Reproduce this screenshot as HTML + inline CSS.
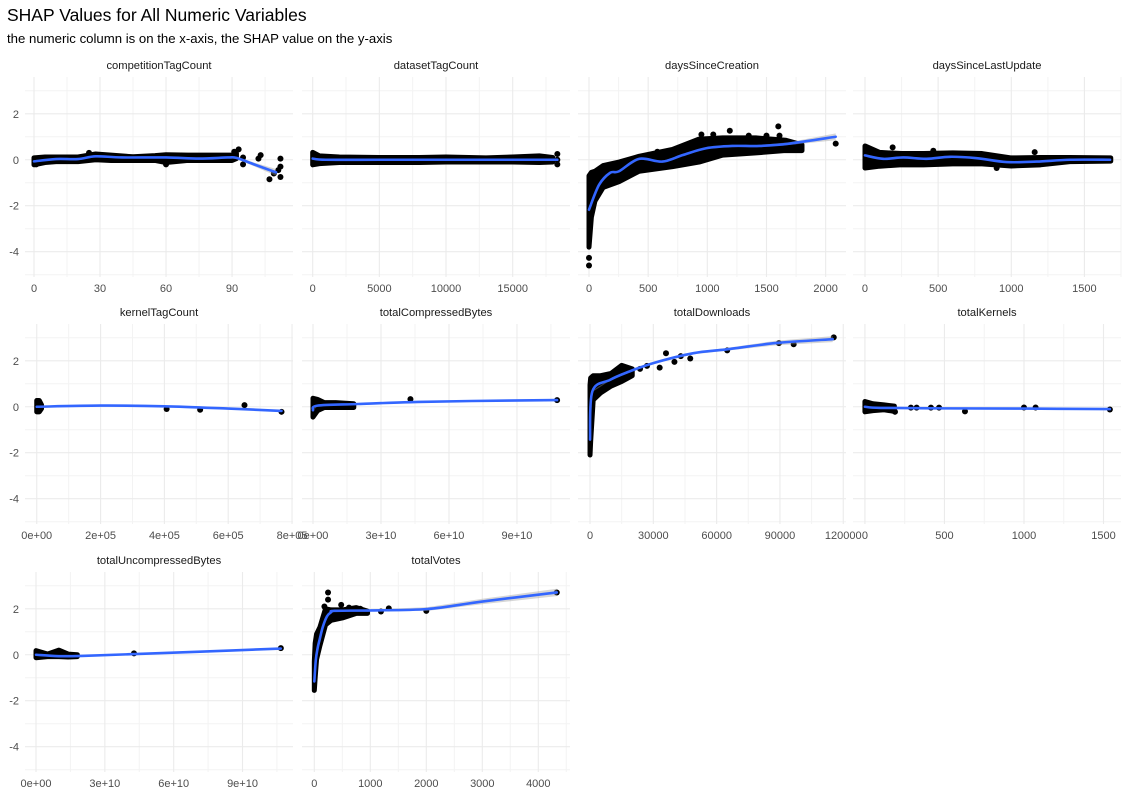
<!DOCTYPE html>
<html><head><meta charset="utf-8"><style>
html,body{margin:0;padding:0;background:#fff;}
svg{display:block;font-family:"Liberation Sans",sans-serif;}
</style></head><body>
<svg id="chart" width="1129" height="796" viewBox="0 0 1129 796" xmlns="http://www.w3.org/2000/svg">
<rect x="0" y="0" width="1129" height="796" fill="#fff"/>
<text x="7" y="21" font-size="17.5" fill="#000">SHAP Values for All Numeric Variables</text>
<text x="7" y="43" font-size="13.2" fill="#000">the numeric column is on the x-axis, the SHAP value on the y-axis</text>
<g id="panels"></g>
</svg>
<script>
// ---- data ----
const compBandX=[0,5,10,20,28,35,45,55,60,70,80,90,92];
const compBandLo=[-0.22,-0.12,-0.08,-0.08,0,-0.03,-0.03,-0.03,-0.12,-0.03,-0.03,-0.03,0.05];
const compBandHi=[0.08,0.12,0.12,0.12,0.25,0.2,0.13,0.18,0.22,0.2,0.2,0.2,0.28];
const compPtX=[93,91,95,95,103,102,107,109,111,112,112,112,60,25,1,1];
const compPtY=[0.45,0.35,0.1,-0.2,0.2,0.05,-0.85,-0.6,-0.45,-0.3,0.05,-0.75,-0.2,0.3,-0.2,0.0];
const compFitX=[0,10,20,28,40,60,75,88,92,100,110];
const compFitY=[-0.07,0.03,0.03,0.15,0.1,0.1,0.05,0.1,0.08,-0.2,-0.55];
const compSe=[0.05,0.03,0.03,0.03,0.03,0.03,0.03,0.04,0.05,0.08,0.15];

const dsBandX=[0,500,2000,5000,8000,10000,13000,15000,17000,18000];
const dsBandLo=[-0.22,-0.17,-0.12,-0.12,-0.12,-0.1,-0.1,-0.1,-0.12,-0.1];
const dsBandHi=[0.32,0.17,0.12,0.1,0.1,0.12,0.08,0.12,0.17,0.1];
const dsPtX=[18350,18350,18350];
const dsPtY=[0.25,0.0,-0.2];
const dsFitX=[0,1000,5000,10000,15000,18350];
const dsFitY=[0.05,0.0,0.0,0.0,0.0,0.0];
const dsSe=[0.03,0.02,0.02,0.02,0.02,0.03];

const dcBandX=[0,20,50,120,254,423,705,930,1130,1410,1660,1800];
const dcBandLo=[-3.8,-2.5,-1.8,-1.2,-0.95,-0.5,-0.3,-0.1,0.2,0.3,0.4,0.4];
const dcBandHi=[-0.7,-0.55,-0.5,-0.25,-0.1,0.15,0.45,0.9,0.95,0.95,0.85,0.65];
const dcPtX=[1190,1600,1610,2085,0,0,578,950,1050,1350,1500];
const dcPtY=[1.26,1.45,1.05,0.7,-4.27,-4.6,0.35,1.1,1.1,1.05,1.05];
const dcFitX=[0,85,178,254,423,620,790,990,1215,1440,1690,2085];
const dcFitY=[-2.17,-1.09,-0.57,-0.5,0.04,-0.08,0.2,0.5,0.6,0.6,0.7,1.0];
const dcSe=[0.1,0.04,0.03,0.03,0.03,0.03,0.03,0.03,0.03,0.04,0.06,0.15];

const luBandX=[0,100,250,400,600,800,1000,1200,1400,1680];
const luBandLo=[-0.36,-0.28,-0.22,-0.22,-0.18,-0.18,-0.27,-0.22,-0.08,-0.06];
const luBandHi=[0.6,0.32,0.27,0.27,0.3,0.27,0.08,0.1,0.1,0.08];
const luPtX=[189,900,1160,467];
const luPtY=[0.54,-0.36,0.33,0.39];
const luFitX=[0,125,262,421,581,763,968,1173,1401,1675];
const luFitY=[0.19,0.04,0.1,0.04,0.13,0.07,-0.1,-0.08,0.0,0.0];
const luSe=[0.04,0.03,0.03,0.03,0.03,0.03,0.03,0.03,0.03,0.04];

const ktBandX=[0,8000,15000];
const ktBandLo=[-0.22,-0.22,-0.08];
const ktBandHi=[0.27,0.27,0.08];
const ktPtX=[407000,512000,651000,767000];
const ktPtY=[-0.1,-0.13,0.07,-0.22];
const ktFitX=[0,200000,400000,600000,767000];
const ktFitY=[0.0,0.05,0.02,-0.08,-0.18];
const ktSe=[0.03,0.03,0.03,0.03,0.04];

const cbBandX=[0,2e9,5e9,1e10,1.8e10];
const cbBandLo=[-0.45,-0.17,-0.03,-0.03,-0.03];
const cbBandHi=[0.37,0.32,0.18,0.18,0.13];
const cbPtX=[4.3e10,1.077e11];
const cbPtY=[0.33,0.29];
const cbFitX=[0,2e9,2e10,4.3e10,7e10,1.077e11];
const cbFitY=[-0.15,0.05,0.12,0.2,0.25,0.29];
const cbSe=[0.03,0.02,0.02,0.02,0.02,0.03];

const tdBandX=[0,300,1500,5000,10000,15000,20000];
const tdBandLo=[-2.1,-1.5,0.3,0.6,0.9,1.1,1.35];
const tdBandHi=[0.95,1.25,1.35,1.35,1.45,1.8,1.65];
const tdPtX=[36000,33000,40000,43000,47500,65000,89500,96500,115500,27000,23700];
const tdPtY=[2.33,1.7,1.95,2.2,2.1,2.45,2.77,2.72,3.02,1.78,1.65];
const tdFitX=[0,1100,9500,17400,30000,49000,65000,88000,115000];
const tdFitY=[-1.43,0.67,1.17,1.49,1.9,2.33,2.5,2.77,2.94];
const tdSe=[0.1,0.03,0.03,0.03,0.04,0.05,0.06,0.1,0.13];

const tkBandX=[0,50,120,185];
const tkBandLo=[-0.22,-0.17,-0.13,-0.2];
const tkBandHi=[0.23,0.13,0.08,0.03];
const tkPtX=[189,289,325,415,466,629,1000,1073,1540];
const tkPtY=[-0.22,-0.04,-0.04,-0.04,-0.04,-0.2,-0.03,-0.03,-0.12];
const tkFitX=[0,100,500,1000,1540];
const tkFitY=[0.0,-0.05,-0.07,-0.08,-0.1];
const tkSe=[0.03,0.02,0.02,0.03,0.04];

const ubBandX=[0,5e9,1e10,1.4e10,1.8e10];
const ubBandLo=[-0.13,-0.08,-0.08,-0.1,-0.08];
const ubBandHi=[0.18,0.03,0.2,0.03,0.0];
const ubPtX=[4.27e10,1.067e11];
const ubPtY=[0.06,0.29];
const ubFitX=[0,1e10,2e10,4.27e10,7e10,1.067e11];
const ubFitY=[0.0,-0.06,-0.05,0.03,0.13,0.27];
const ubSe=[0.02,0.02,0.02,0.02,0.02,0.03];

const tvBandX=[0,15,40,100,200,300,500,750,950];
const tvBandLo=[-1.55,-1.0,-0.2,0.4,1.3,1.5,1.6,1.8,1.8];
const tvBandHi=[-0.3,0.5,0.9,1.2,2.0,1.95,1.95,2.05,1.9];
const tvPtX=[245,245,180,480,1190,1330,2000,4330,620,820];
const tvPtY=[2.71,2.4,2.1,2.17,1.88,2.02,1.91,2.71,2.05,2.0];
const tvFitX=[0,27,60,94,150,226,300,359,1022,2020,3015,4330];
const tvFitY=[-1.16,-0.22,0.3,0.65,1.2,1.67,1.85,1.91,1.93,1.99,2.32,2.71];
const tvSe=[0.1,0.05,0.04,0.04,0.04,0.04,0.04,0.04,0.04,0.08,0.12,0.16];

const yTicks=[-4,-2,0,2];
const yTickLabels=["-4","-2","0","2"];
const yMinor=[-5,-3,-1,1,3];

const panelTitles=["competitionTagCount","datasetTagCount","daysSinceCreation","daysSinceLastUpdate","kernelTagCount","totalCompressedBytes","totalDownloads","totalKernels","totalUncompressedBytes","totalVotes"];
const xTicks=[[0,30,60,90],[0,5000,10000,15000],[0,500,1000,1500,2000],[0,500,1000,1500],[0,2e5,4e5,6e5,8e5],[0,3e10,6e10,9e10],[0,30000,60000,90000,120000],[0,500,1000,1500],[0,3e10,6e10,9e10],[0,1000,2000,3000,4000]];
const xTickLabels=[["0","30","60","90"],["0","5000","10000","15000"],["0","500","1000","1500","2000"],["0","500","1000","1500"],["0e+00","2e+05","4e+05","6e+05","8e+05"],["0e+00","3e+10","6e+10","9e+10"],["0","30000","60000","90000","120000"],["0","500","1000","1500"],["0e+00","3e+10","6e+10","9e+10"],["0","1000","2000","3000","4000"]];
const xMinor=[[15,45,75,105],[2500,7500,12500,17500],[250,750,1250,1750],[250,750,1250,1750],[1e5,3e5,5e5,7e5],[1.5e10,4.5e10,7.5e10,1.05e11],[15000,45000,75000,105000],[250,750,1250],[1.5e10,4.5e10,7.5e10,1.05e11],[500,1500,2500,3500,4500]];
const xDomains=[[-4.09,117.7],[-802,19300],[-93,2172],[-82,1750],[-36800,803000],[-4.85e9,1.134e11],[-5700,121300],[-75,1610],[-4.8e9,1.12e11],[-220,4566]];

const series=[
 [compBandX,compBandLo,compBandHi,compPtX,compPtY,compFitX,compFitY,compSe],
 [dsBandX,dsBandLo,dsBandHi,dsPtX,dsPtY,dsFitX,dsFitY,dsSe],
 [dcBandX,dcBandLo,dcBandHi,dcPtX,dcPtY,dcFitX,dcFitY,dcSe],
 [luBandX,luBandLo,luBandHi,luPtX,luPtY,luFitX,luFitY,luSe],
 [ktBandX,ktBandLo,ktBandHi,ktPtX,ktPtY,ktFitX,ktFitY,ktSe],
 [cbBandX,cbBandLo,cbBandHi,cbPtX,cbPtY,cbFitX,cbFitY,cbSe],
 [tdBandX,tdBandLo,tdBandHi,tdPtX,tdPtY,tdFitX,tdFitY,tdSe],
 [tkBandX,tkBandLo,tkBandHi,tkPtX,tkPtY,tkFitX,tkFitY,tkSe],
 [ubBandX,ubBandLo,ubBandHi,ubPtX,ubPtY,ubFitX,ubFitY,ubSe],
 [tvBandX,tvBandLo,tvBandHi,tvPtX,tvPtY,tvFitX,tvFitY,tvSe]
];

// ---- layout ----
const NS="http://www.w3.org/2000/svg";
const colLeft=[25,302,578,853], panelW=268;
const rowTop=[77,324,572], panelH=200;
const yMin=-5.1, yMax=3.6;
const root=document.getElementById('panels');
function mk(tag,attrs,parent){const e=document.createElementNS(NS,tag);for(const k in attrs)e.setAttribute(k,attrs[k]);(parent||root).appendChild(e);return e;}
function smoothPath(P){
  let d='M'+P[0][0]+','+P[0][1];
  for(let k=0;k<P.length-1;k++){
    const p0=P[Math.max(0,k-1)],p1=P[k],p2=P[k+1],p3=P[Math.min(P.length-1,k+2)];
    const c1=[p1[0]+(p2[0]-p0[0])/6,p1[1]+(p2[1]-p0[1])/6];
    const c2=[p2[0]-(p3[0]-p1[0])/6,p2[1]-(p3[1]-p1[1])/6];
    d+='C'+c1[0]+','+c1[1]+' '+c2[0]+','+c2[1]+' '+p2[0]+','+p2[1];
  }
  return d;
}

for(let i=0;i<panelTitles.length;i++){
  const col=i%4,row=Math.floor(i/4);
  const L=colLeft[col],T=rowTop[row];
  const d=xDomains[i];
  const sx=v=>L+(v-d[0])/(d[1]-d[0])*panelW;
  const sy=v=>T+(yMax-v)/(yMax-yMin)*panelH;
  const g=mk('g',{});
  
  
  for(const v of yMinor){const l=mk('line',{x1:L,x2:L+panelW,y1:sy(v),y2:sy(v),stroke:'#f3f3f3','stroke-width':1},g);
    }
  for(const v of xMinor[i]){if(v<d[0]||v>d[1])continue;const l=mk('line',{x1:sx(v),x2:sx(v),y1:T,y2:T+panelH,stroke:'#f3f3f3','stroke-width':1},g);
    }
  for(const v of yTicks){const l=mk('line',{x1:L,x2:L+panelW,y1:sy(v),y2:sy(v),stroke:'#ebebeb','stroke-width':1.1},g);
    }
  xTicks[i].forEach((v,j)=>{
    const l=mk('line',{x1:sx(v),x2:sx(v),y1:T,y2:T+panelH,stroke:'#ebebeb','stroke-width':1.1},g);
    
    const t=mk('text',{x:sx(v),y:T+panelH+15,'font-size':11,fill:'#4d4d4d','text-anchor':'middle'},g);
    t.textContent=xTickLabels[i][j];
    
  });
  if(col===0){yTicks.forEach((v,j)=>{
    const t=mk('text',{x:L-6,y:sy(v)+4,'font-size':11,fill:'#4d4d4d','text-anchor':'end'},g);
    t.textContent=yTickLabels[j];
    
  });}
  const st=mk('text',{x:L+panelW/2,y:T-8,'font-size':11.2,fill:'#1a1a1a','text-anchor':'middle'},g);
  st.textContent=panelTitles[i];
  

  const [bx,blo,bhi,px,py,fx,fy,se]=series[i];
  let pts=[];
  for(let k=0;k<bx.length;k++)pts.push(sx(bx[k])+','+sy(bhi[k]));
  for(let k=bx.length-1;k>=0;k--)pts.push(sx(bx[k])+','+sy(blo[k]));
  const band=mk('polygon',{points:pts.join(' '),fill:'#000',stroke:'#000','stroke-width':5,'stroke-linejoin':'round'},g);
  
  for(let k=0;k<px.length;k++){
    const c=mk('circle',{cx:sx(px[k]),cy:sy(py[k]),r:3,fill:'#000'},g);
    
  }
  let up=[],dn=[],mid=[];
  for(let k=0;k<fx.length;k++){up.push([sx(fx[k]),sy(fy[k]+se[k])]);dn.push([sx(fx[k]),sy(fy[k]-se[k])]);mid.push([sx(fx[k]),sy(fy[k])]);}
  let rp=up.map(p=>p.join(',')).concat(dn.reverse().map(p=>p.join(',')));
  const rib=mk('polygon',{points:rp.join(' '),fill:'#999','fill-opacity':0.4,stroke:'none'},g);
  
  const ln=mk('path',{d:smoothPath(mid),fill:'none',stroke:'#3366FF','stroke-width':2.6,'stroke-linejoin':'round','stroke-linecap':'round'},g);
  
}
</script>
</body></html>
